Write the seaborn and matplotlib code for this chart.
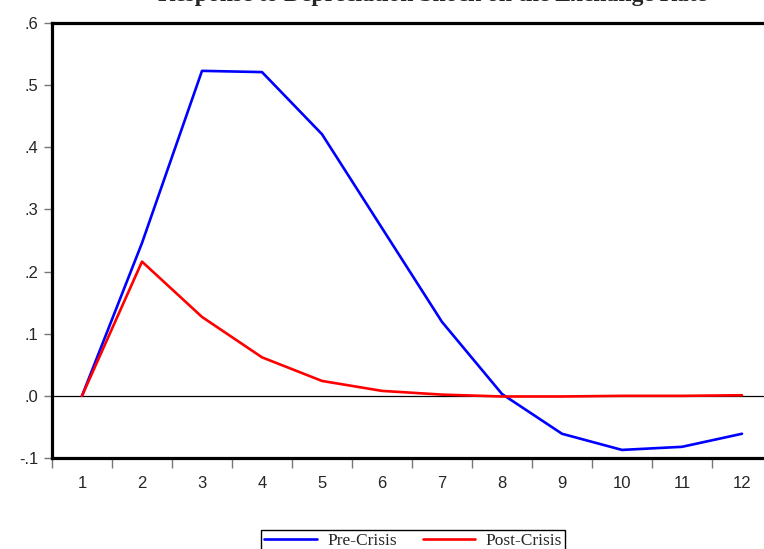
import numpy as np
import pandas as pd
import matplotlib
matplotlib.use("Agg")
import matplotlib.pyplot as plt
import seaborn as sns
from matplotlib.lines import Line2D

periods = list(range(1, 13))
pre_crisis = [0.0, 0.246, 0.523, 0.521, 0.421, 0.270, 0.119, 0.003, -0.061, -0.087, -0.082, -0.061]
post_crisis = [0.0, 0.216, 0.127, 0.062, 0.024, 0.008, 0.002, -0.001, -0.001, 0.0, 0.0, 0.001]
series_names = ["Pre-Crisis", "Post-Crisis"]
yticks = [-0.1, 0.0, 0.1, 0.2, 0.3, 0.4, 0.5, 0.6]
ytick_labels = ["-.1", ".0", ".1", ".2", ".3", ".4", ".5", ".6"]
title = "Response to Depreciation Shock on the Exchange Rate"

df = pd.DataFrame({
    "Period": periods * 2,
    "Value": pre_crisis + post_crisis,
    "Series": [series_names[0]] * 12 + [series_names[1]] * 12,
})

sns.set_style("white")
plt.rcParams["font.family"] = ["Liberation Sans", "DejaVu Sans"]

W, H = 764, 549
fig = plt.figure(figsize=(W / 100, H / 100), dpi=100)
ax = fig.add_axes([52 / W, (H - 458) / H, 720 / W, 435 / H])

sns.lineplot(data=df, x="Period", y="Value", hue="Series",
             palette={"Pre-Crisis": "#0000ff", "Post-Crisis": "#ff0000"},
             linewidth=1.9, ax=ax, legend=False)

ax.axhline(0, color="black", linewidth=0.9, zorder=1)

ax.set_xlim(0.5, 12.5)
ax.set_ylim(-0.1, 0.6)
ax.set_xlabel("")
ax.set_ylabel("")

ax.set_yticks(yticks)
ax.set_yticklabels(ytick_labels, fontsize=12)
ax.set_xticks(periods)
ax.set_xticklabels([str(p) for p in periods], fontsize=12)
ax.set_xticks(np.arange(0.5, 13, 1.0), minor=True)
ax.tick_params(axis="x", which="major", bottom=True, length=0, pad=13)
ax.tick_params(axis="x", which="minor", bottom=True, length=7, width=1,
               color="#777777", direction="out")
ax.tick_params(axis="y", which="major", left=True, length=6, width=1,
               color="#777777", direction="out", pad=4)

for side in ["left", "top", "bottom"]:
    ax.spines[side].set_visible(True)
    ax.spines[side].set_color("black")
    ax.spines[side].set_linewidth(2.3)
ax.spines["right"].set_visible(False)

fig.text(432 / W, 1 - 1 / H, title, ha="center", va="baseline",
         fontsize=17, fontweight="bold", family=["Liberation Serif"])

handles = [Line2D([], [], color="#0000ff", lw=1.9), Line2D([], [], color="#ff0000", lw=1.9)]
leg = fig.legend(handles, series_names, loc="upper center",
                 bbox_to_anchor=(413 / W, 1 - 521 / H), ncol=2, frameon=True,
                 fancybox=False, edgecolor="black", framealpha=1,
                 prop={"family": "Liberation Serif", "size": 12.5},
                 handlelength=3.0, columnspacing=1.5, borderpad=0.2, handletextpad=0.6)
leg.get_frame().set_linewidth(1.0)

fig.savefig("out.png", dpi=100)
